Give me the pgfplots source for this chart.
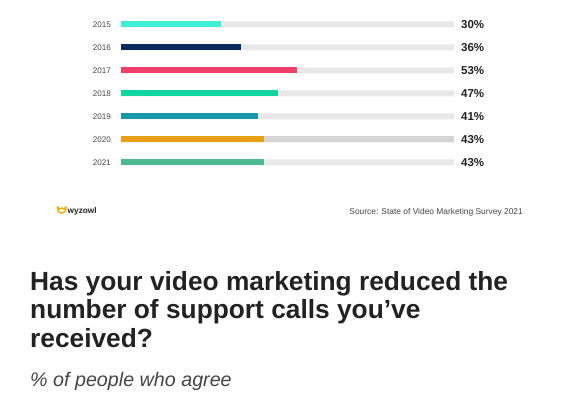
\documentclass[border=0pt]{standalone}
\usepackage{pgfplots}
\pgfplotsset{compat=1.18}
\usepackage{pgfplotstable}
\usepackage{fontspec}
\setmainfont{Liberation Sans}

\definecolor{c2015}{HTML}{40EFD6}
\definecolor{c2016}{HTML}{0B2A5B}
\definecolor{c2017}{HTML}{F0406A}
\definecolor{c2018}{HTML}{12D6A0}
\definecolor{c2019}{HTML}{1899AA}
\definecolor{c2020}{HTML}{E9A114}
\definecolor{c2021}{HTML}{4FB891}
\definecolor{track}{HTML}{E8E8E8}
\definecolor{trackdark}{HTML}{D5D5D5}
\definecolor{txt}{HTML}{222222}
\definecolor{sub}{HTML}{444444}
\definecolor{logo}{HTML}{F5A800}

% row 6 = 2015 (top) ... row 0 = 2021 (bottom)
\pgfplotstableread{
row pct
6 30
5 36
4 53
3 47
2 41
1 43
0 43
}\agree

\begin{document}
\begin{tikzpicture}[x=1pt,y=1pt]
\path[use as bounding box, fill=white] (0,0) rectangle (580,400);

\begin{axis}[
    at={(121pt,226.2pt)}, anchor=south west,
    scale only axis,
    width=333pt, height=161pt,
    xmin=0, xmax=100,
    ymin=-0.5, ymax=6.5,
    xbar, bar width=6pt, bar shift=0pt,
    axis line style={draw=none},
    major tick length=0pt,
    xtick=\empty,
    ytick={0,...,6},
    yticklabels={2021,2020,2019,2018,2017,2016,2015},
    yticklabel style={font=\fontsize{8.1}{9}\selectfont, text=sub, inner sep=0pt, anchor=east, xshift=-10pt},
    clip=false,
]
\addplot[fill=track, draw=none,
    point meta=explicit symbolic,
    nodes near coords={\textbf{\pgfplotspointmeta\%}},
    every node near coord/.append style={anchor=west, inner sep=0pt, xshift=7pt,
        font=\fontsize{11.5}{12}\selectfont, text=txt}]
    table[x expr=100, y=row, meta=pct] {\agree};
\addplot[fill=trackdark, draw=none] coordinates {(100,1)};

\addplot[fill=c2015, draw=none] coordinates {(30,6)};
\addplot[fill=c2016, draw=none] coordinates {(36,5)};
\addplot[fill=c2017, draw=none] coordinates {(53,4)};
\addplot[fill=c2018, draw=none] coordinates {(47,3)};
\addplot[fill=c2019, draw=none] coordinates {(41,2)};
\addplot[fill=c2020, draw=none] coordinates {(43,1)};
\addplot[fill=c2021, draw=none] coordinates {(43,0)};
\end{axis}

% logo
\draw[logo, line width=1.3pt, line join=round, line cap=round]
    (57.5,193.5) -- (59.5,190.8) -- (61.8,192.2) -- (64,190.8) -- (66,193.5)
    .. controls (67,184.5) and (56.5,184.5) .. (57.5,193.5);
\node[anchor=west, inner sep=0pt, text=txt, font=\fontsize{8.3}{9}\selectfont\bfseries]
    at (67.5,188.5) {wyzowl};

\node[anchor=base east, inner sep=0pt, text=sub, font=\fontsize{8.4}{9}\selectfont]
    at (523,185.3) {Source: State of Video Marketing Survey 2021};

% title and subtitle
\begin{scope}[every node/.style={anchor=base west, inner sep=0pt, text=txt,
    font=\fontsize{26.3}{29}\selectfont\bfseries}]
\node at (30,110) {Has your video marketing reduced the};
\node at (30,81.5) {number of support calls you’ve};
\node at (30,52.5) {received?};
\end{scope}
\node[anchor=base west, inner sep=0pt, text=sub, font=\fontsize{19.7}{22}\selectfont\itshape]
    at (30,13.3) {\% of people who agree};
\end{tikzpicture}
\end{document}
